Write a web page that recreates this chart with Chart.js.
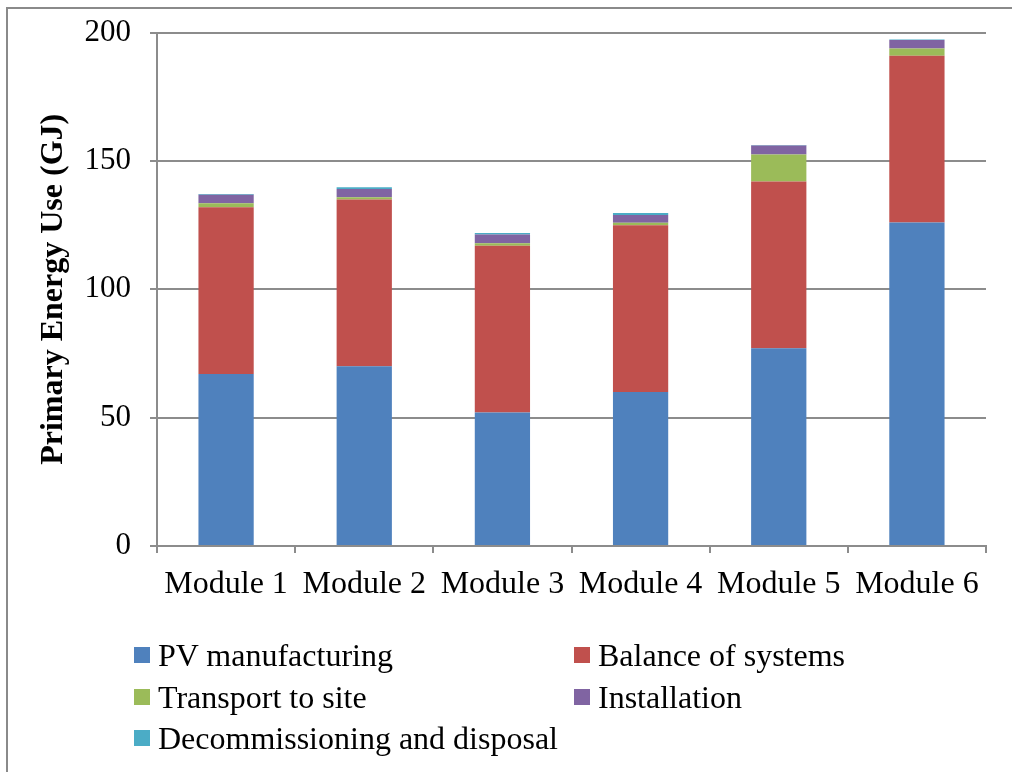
<!DOCTYPE html>
<html>
<head>
<meta charset="utf-8">
<script src="https://cdn.jsdelivr.net/npm/chart.js@4.4.1/dist/chart.umd.min.js"></script>
<style>
  html, body { margin: 0; padding: 0; background: #fff; }
  #wrap { position: relative; width: 1012px; height: 772px; overflow: hidden; background: #fff; }
  #frame { position: absolute; left: 6px; top: 7px; width: 1200px; height: 1000px; border-left: 2px solid #8a8a8a; border-top: 2px solid #8a8a8a; }
  #chart { position: absolute; left: 0; top: -5px; }
  .lg { position: absolute; display: flex; align-items: center; height: 40px;
        font-family: "Liberation Serif", "Times New Roman", serif; font-size: 32px; color: #000; white-space: nowrap; }
  .lg .box { width: 16px; height: 16px; margin-right: 8px; flex: none; }
</style>
</head>
<body>
<div id="wrap">
  <div id="frame"></div>
  <canvas id="chart" width="1012" height="777"></canvas>
  <div id="legend"></div>
</div>
<script>
// Categories and stacked energy components (GJ)
const modules = ['Module 1', 'Module 2', 'Module 3', 'Module 4', 'Module 5', 'Module 6'];
const pvManufacturing = [67, 70, 52, 60, 77, 126];
const balanceOfSystems = [65, 65, 65, 65, 65, 65];
const transportToSite = [1.5, 0.9, 0.9, 0.9, 10.5, 2.8];
const installation = [3.3, 3.2, 3.4, 3.0, 3.5, 3.3];
const decommissioning = [0.3, 0.7, 0.6, 0.8, 0.2, 0.2];
const seriesNames = ['PV manufacturing', 'Balance of systems', 'Transport to site', 'Installation', 'Decommissioning and disposal'];
const yTicks = [0, 50, 100, 150, 200];

const colors = ['#4F81BD', '#C0504D', '#9BBB59', '#8064A2', '#4BACC6'];
const seriesData = [pvManufacturing, balanceOfSystems, transportToSite, installation, decommissioning];

const serif = '"Liberation Serif", "Times New Roman", serif';
const gridColor = '#8c8c8c';

const chart = new Chart(document.getElementById('chart'), {
  type: 'bar',
  data: {
    labels: modules,
    datasets: seriesNames.map((name, i) => ({
      label: name,
      data: seriesData[i],
      backgroundColor: colors[i],
      borderWidth: 0,
      barPercentage: 0.4,
      categoryPercentage: 1.0
    }))
  },
  options: {
    responsive: false,
    animation: false,
    layout: { padding: { left: 30, right: 26, top: 10, bottom: 166 } },
    plugins: { legend: { display: false }, tooltip: { enabled: false } },
    scales: {
      x: {
        stacked: true,
        afterFit: (s) => { s.height = 60; },
        grid: { drawOnChartArea: false, drawTicks: true, tickLength: 7, color: gridColor, lineWidth: 2, offset: true },
        border: { color: gridColor, width: 2 },
        ticks: { color: '#000', font: { family: serif, size: 32 }, padding: 12, maxRotation: 0 }
      },
      y: {
        stacked: true,
        min: 0,
        max: 200,
        afterFit: (s) => { s.width = 127; },
        afterBuildTicks: (s) => { s.ticks = yTicks.map(v => ({ value: v })); },
        grid: { color: gridColor, lineWidth: 2, tickLength: 7, drawTicks: true },
        border: { color: gridColor, width: 2 },
        ticks: { color: '#000', font: { family: serif, size: 31 }, padding: 19 },
        title: {
          display: true,
          text: 'Primary Energy Use (GJ)',
          color: '#000',
          font: { family: serif, size: 32, weight: 'bold' },
          padding: { top: 5, bottom: 0 }
        }
      }
    }
  }
});

// Two-column legend built from the chart's datasets
const legendEl = document.getElementById('legend');
const colX = [134, 574];
const rowCenterY = [655, 697, 738];
chart.data.datasets.forEach((ds, i) => {
  const item = document.createElement('div');
  item.className = 'lg';
  item.style.left = colX[i % 2] + 'px';
  item.style.top = (rowCenterY[Math.floor(i / 2)] - 20) + 'px';
  const box = document.createElement('span');
  box.className = 'box';
  box.style.background = ds.backgroundColor;
  const txt = document.createElement('span');
  txt.textContent = ds.label;
  item.appendChild(box);
  item.appendChild(txt);
  legendEl.appendChild(item);
});
</script>
</body>
</html>
